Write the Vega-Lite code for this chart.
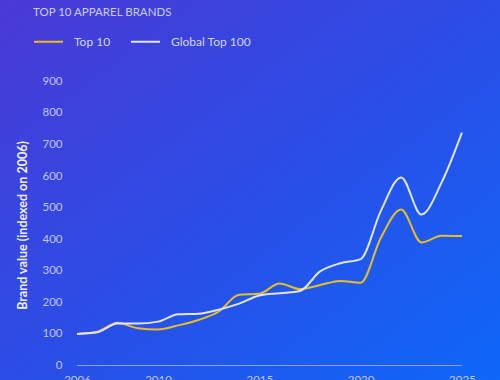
{
  "$schema": "https://vega.github.io/schema/vega-lite/v6.json",
  "width": 500,
  "height": 380,
  "autosize": {"type": "none"},
  "padding": 0,
  "background": "#2c4ee6",
  "config": {
    "font": "Lato",
    "view": {
      "stroke": null,
      "fill": {
        "gradient": "linear",
        "x1": 0, "y1": 0, "x2": 1, "y2": 1,
        "stops": [
          {"offset": 0, "color": "#4b39d6"},
          {"offset": 0.5, "color": "#2c4de6"},
          {"offset": 1, "color": "#0e67f9"}
        ]
      }
    }
  },
  "title": {
    "text": "TOP 10 APPAREL BRANDS",
    "anchor": "start",
    "frame": "group",
    "offset": -18,
    "dx": 33,
    "fontSize": 11.5,
    "fontWeight": "normal",
    "color": "#c9cdf6"
  },
  "data": {
    "values": [
      {"year": 2006, "series": "Top 10", "value": 100},
      {"year": 2007, "series": "Top 10", "value": 107},
      {"year": 2008, "series": "Top 10", "value": 135},
      {"year": 2009, "series": "Top 10", "value": 118},
      {"year": 2010, "series": "Top 10", "value": 114},
      {"year": 2011, "series": "Top 10", "value": 127},
      {"year": 2012, "series": "Top 10", "value": 144},
      {"year": 2013, "series": "Top 10", "value": 171},
      {"year": 2014, "series": "Top 10", "value": 224},
      {"year": 2015, "series": "Top 10", "value": 227},
      {"year": 2016, "series": "Top 10", "value": 260},
      {"year": 2017, "series": "Top 10", "value": 242},
      {"year": 2018, "series": "Top 10", "value": 255},
      {"year": 2019, "series": "Top 10", "value": 268},
      {"year": 2020, "series": "Top 10", "value": 262},
      {"year": 2021, "series": "Top 10", "value": 405},
      {"year": 2022, "series": "Top 10", "value": 494},
      {"year": 2023, "series": "Top 10", "value": 390},
      {"year": 2024, "series": "Top 10", "value": 411},
      {"year": 2025, "series": "Top 10", "value": 410},
      {"year": 2006, "series": "Global Top 100", "value": 100},
      {"year": 2007, "series": "Global Top 100", "value": 105},
      {"year": 2008, "series": "Global Top 100", "value": 133},
      {"year": 2009, "series": "Global Top 100", "value": 133},
      {"year": 2010, "series": "Global Top 100", "value": 139},
      {"year": 2011, "series": "Global Top 100", "value": 162},
      {"year": 2012, "series": "Global Top 100", "value": 164},
      {"year": 2013, "series": "Global Top 100", "value": 177},
      {"year": 2014, "series": "Global Top 100", "value": 196},
      {"year": 2015, "series": "Global Top 100", "value": 222},
      {"year": 2016, "series": "Global Top 100", "value": 229},
      {"year": 2017, "series": "Global Top 100", "value": 236},
      {"year": 2018, "series": "Global Top 100", "value": 298},
      {"year": 2019, "series": "Global Top 100", "value": 324},
      {"year": 2020, "series": "Global Top 100", "value": 337},
      {"year": 2021, "series": "Global Top 100", "value": 490},
      {"year": 2022, "series": "Global Top 100", "value": 596},
      {"year": 2023, "series": "Global Top 100", "value": 478},
      {"year": 2024, "series": "Global Top 100", "value": 580},
      {"year": 2025, "series": "Global Top 100", "value": 738}
    ]
  },
  "layer": [
    {
      "mark": {"type": "rule", "color": "#8aa2f4", "strokeWidth": 1.2},
      "encoding": {
        "x": {"aggregate": "min", "field": "year", "type": "quantitative"},
        "x2": {"aggregate": "max", "field": "year"},
        "y": {"datum": 0, "type": "quantitative"}
      }
    },
    {
      "mark": {"type": "line", "interpolate": "monotone", "strokeWidth": 2},
      "encoding": {
        "x": {
          "field": "year",
          "type": "quantitative",
          "scale": {"domain": [2002.2, 2026.88], "nice": false, "zero": false},
          "axis": {
            "values": [2006, 2010, 2015, 2020, 2025],
            "format": "d",
            "title": null,
            "domain": false,
            "ticks": false,
            "tickSize": 0,
            "grid": false,
            "offset": -6,
            "labelPadding": 0,
            "labelColor": "#c0c6f3",
            "labelFontSize": 11.5,
            "labelFlush": false
          }
        },
        "y": {
          "field": "value",
          "type": "quantitative",
          "scale": {"domain": [-46, 1158], "nice": false, "zero": false},
          "axis": {
            "values": [0, 100, 200, 300, 400, 500, 600, 700, 800, 900],
            "title": "Brand value (indexed on 2006)",
            "domain": false,
            "ticks": false,
            "tickSize": 0,
            "grid": false,
            "offset": -62,
            "labelPadding": 0,
            "labelColor": "#c0c6f3",
            "labelFontSize": 11.5,
            "titleFontSize": 12.5,
            "titleFontWeight": "bold",
            "titleColor": "#eef0ff",
            "titleX": -40,
            "titleY": 225,
            "titleAngle": -90,
            "titleAlign": "center",
            "titleBaseline": "middle"
          }
        },
        "color": {
          "field": "series",
          "type": "nominal",
          "sort": ["Top 10", "Global Top 100"],
          "scale": {"domain": ["Top 10", "Global Top 100"], "range": ["#e8bf22", "#dfe5fb"]},
          "legend": {
            "orient": "none",
            "legendX": 33,
            "legendY": 26,
            "direction": "horizontal",
            "title": null,
            "symbolType": "stroke",
            "symbolSize": 841,
            "symbolStrokeWidth": 2,
            "labelColor": "#d3d6f8",
            "labelFontSize": 12,
            "labelOffset": 10,
            "columnPadding": 16
          }
        }
      }
    }
  ]
}
